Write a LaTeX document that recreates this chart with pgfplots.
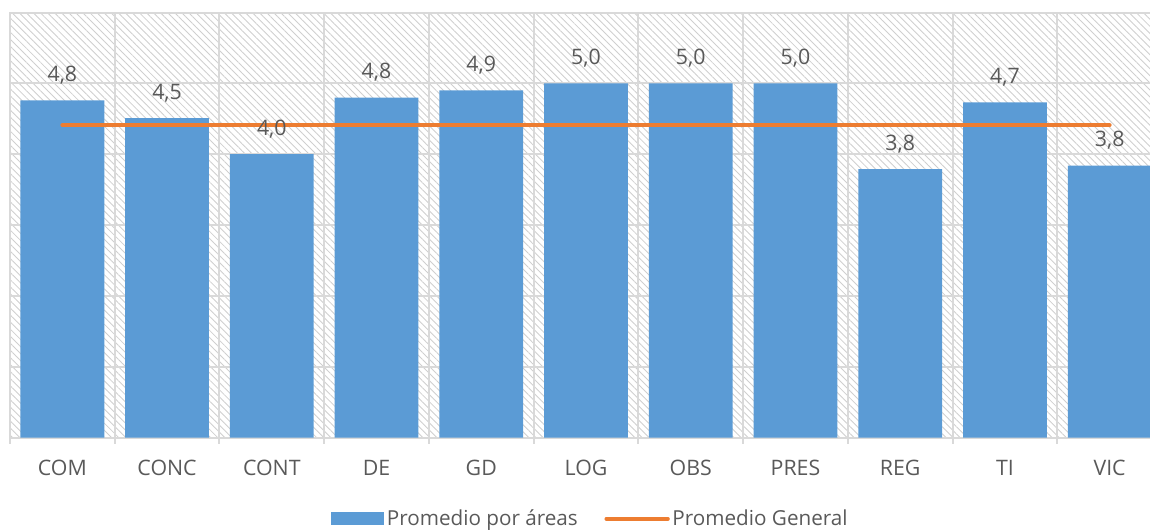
\documentclass[border=0pt]{standalone}
\usepackage{pgfplots}
\pgfplotsset{compat=1.18}
\usepackage{fontspec}
\setmainfont{Open Sans}
\usetikzlibrary{patterns.meta}
\definecolor{barblue}{HTML}{5B9BD5}
\definecolor{lineorange}{HTML}{ED7D31}
\definecolor{gridgray}{HTML}{D9D9D9}
\definecolor{txtgray}{HTML}{595959}
\definecolor{hatchgray}{HTML}{CFCFCF}
\begin{document}
\begin{tikzpicture}[x=1pt,y=1pt]
\path[use as bounding box, clip] (0,0) rectangle (862.5,398.25);
\begin{axis}[
 at={(7.5pt,70.1pt)}, anchor=south west,
 scale only axis, width=864pt, height=318.75pt,
 xmin=-0.5, xmax=10.5, ymin=0, ymax=6,
 xtick={0,...,10},
 xticklabels={COM,CONC,CONT,DE,GD,LOG,OBS,PRES,REG,TI,VIC},
 minor xtick={-0.5,0.5,...,10.5},
 ytick={0,1,...,6}, yticklabels={},
 xtick pos=bottom, ytick pos=left,
 major tick length=0pt,
 minor tick length=4.5pt,
 tick align=outside,
 xminorgrids=true, ymajorgrids=true, xmajorgrids=false,
 grid style={gridgray, line width=1.5pt},
 minor grid style={gridgray, line width=1.5pt},
 minor tick style={gridgray, line width=1.5pt},
 axis line style={gridgray, line width=1.5pt},
 axis background/.style={pattern={Lines[angle=-45,distance=3.75pt,line width=0.65pt]}, pattern color=hatchgray},
 ticklabel style={font=\fontsize{16}{18}\selectfont, text=txtgray},
 xticklabel style={anchor=base, yshift=-28.5pt},
 legend style={at={(0.504,-0.191)}, anchor=center, draw=none, fill=none,
   legend columns=2, font=\fontsize{15.5}{17}\selectfont, text=txtgray,
   /tikz/every even column/.append style={column sep=18pt}},
 legend cell align=left,
]
\addplot[ybar, bar width=0.8, fill=barblue, draw=none,
  legend image code/.code={\fill[barblue] (0pt,-4.8pt) rectangle (40pt,4.8pt);}]
 coordinates {(0,4.76) (1,4.51) (2,4.0) (3,4.80) (4,4.90) (5,5.0) (6,5.0) (7,5.0) (8,3.79) (9,4.73) (10,3.84)};
\addlegendentry{Promedio por áreas}
\addplot[lineorange, line width=3pt, mark=none, line cap=round,
  legend image code/.code={\draw[lineorange, line width=3pt, line cap=round] (0pt,0pt) -- (46pt,0pt);}]
 coordinates {(0,4.41) (10,4.41)};
\addlegendentry{Promedio General}
\addplot[draw=none, mark=none, forget plot,
  nodes near coords={\pgfmathprintnumber[fixed, fixed zerofill, precision=1, use comma, assume math mode=true]{\pgfplotspointmeta}},
  every node near coord/.style={anchor=base, yshift=14pt, inner sep=0pt, font=\fontsize{16}{18}\selectfont, text=txtgray}]
 coordinates {(0,4.76) (1,4.51) (2,4.0) (3,4.80) (4,4.90) (5,5.0) (6,5.0) (7,5.0) (8,3.79) (9,4.73) (10,3.84)};
\end{axis}
\end{tikzpicture}
\end{document}
